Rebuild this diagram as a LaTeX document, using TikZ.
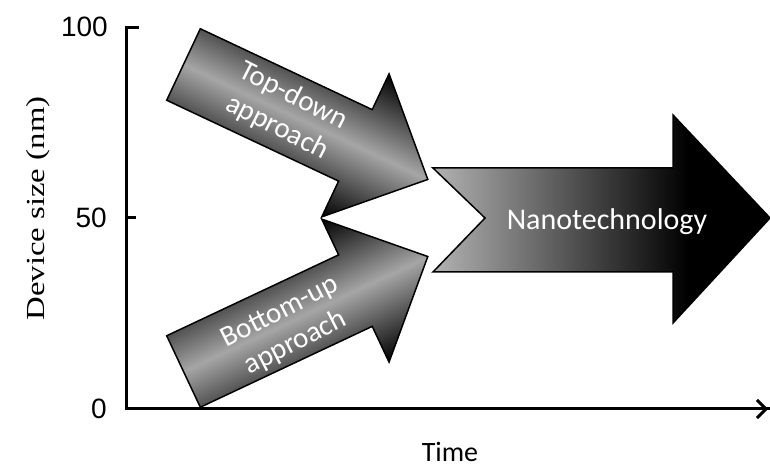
\documentclass[tikz,border=0pt]{standalone}
\usepackage{fontspec}
\usetikzlibrary{arrows.meta}
\newfontfamily\calibrifont{Carlito}
\newfontfamily\arialfont{Liberation Sans}
\newfontfamily\stretchserif[FakeStretch=1.26]{Liberation Serif}
\pgfdeclarehorizontalshading{nanoshade}{100bp}{color(0bp)=(black!30); color(25bp)=(black!30); color(63bp)=(black); color(100bp)=(black)}
\tikzset{
  axisline/.style={line width=3pt, line cap=rect},
  slantarrow/.style={draw=black, line width=1.5pt, line join=miter, top color=black, bottom color=black, middle color=black!35},
  nanoarrow/.style={draw=black, line width=1.5pt, line join=miter, shading=nanoshade},
  arrowtext/.style={text=white, font=\calibrifont\fontsize{29}{35}\selectfont, align=center, inner sep=0pt},
  ticklabel/.style={font=\arialfont\fontsize{28}{30}\selectfont, inner sep=0pt, anchor=east},
}
\begin{document}
\begin{tikzpicture}[x=1pt,y=1pt]
\useasboundingbox (0,0) rectangle (770,470);
% axes
\coordinate (ytop) at (126,442);
\coordinate (origin) at (126,61);
\coordinate (xend) at (768,61);
\draw[axisline] (137,442) -- (ytop) -- (origin) -- (xend);
\draw[line width=3pt, -{Straight Barb[length=9pt,width=18pt,line width=3pt]}] (700,61) -- (xend);
\draw[axisline] (126,252) -- (134,252);
\node[ticklabel] (l100) at (108,443) {100};
\node[ticklabel] (l50) at (107,252) {50};
\node[ticklabel] (l0) at (107,61) {0};
\node[font=\stretchserif\fontsize{26}{28}\selectfont, rotate=90, anchor=base, inner sep=0pt] (ylab) at (44,261.5) {Device size (nm)};
\node[font=\calibrifont\fontsize{28}{30}\selectfont, anchor=base, inner sep=0pt] (xlab) at (450,8) {Time};
% top-down arrow
\begin{scope}[transform canvas={shift={(183.5pt,405.5pt)}, rotate=-25.2}]
\path[slantarrow] (0,39.5) -- (190,39.5) -- (190,79) -- (270,0) -- (190,-79) -- (190,-39.5) -- (0,-39.5) -- cycle;
\end{scope}
% bottom-up arrow
\begin{scope}[transform canvas={shift={(183.5pt,98.5pt)}, rotate=25.2}]
\path[slantarrow] (0,39.5) -- (190,39.5) -- (190,79) -- (270,0) -- (190,-79) -- (190,-39.5) -- (0,-39.5) -- cycle;
\end{scope}
% nanotechnology arrow
\path[nanoarrow] (433,302) -- (673,302) -- (673,355) -- (770,252) -- (673,147) -- (673,198) -- (433,198) -- (485,252) -- cycle;
% texts
\node[arrowtext, rotate=-27] (tdtext) at (285,358) {Top-down\\approach};
\node[arrowtext, rotate=27] (butext) at (288,142) {Bottom-up\\approach};
\node[arrowtext, anchor=base, font=\calibrifont\fontsize{30}{34}\selectfont] (nanotext) at (607,240) {Nanotechnology};
\end{tikzpicture}
\end{document}
